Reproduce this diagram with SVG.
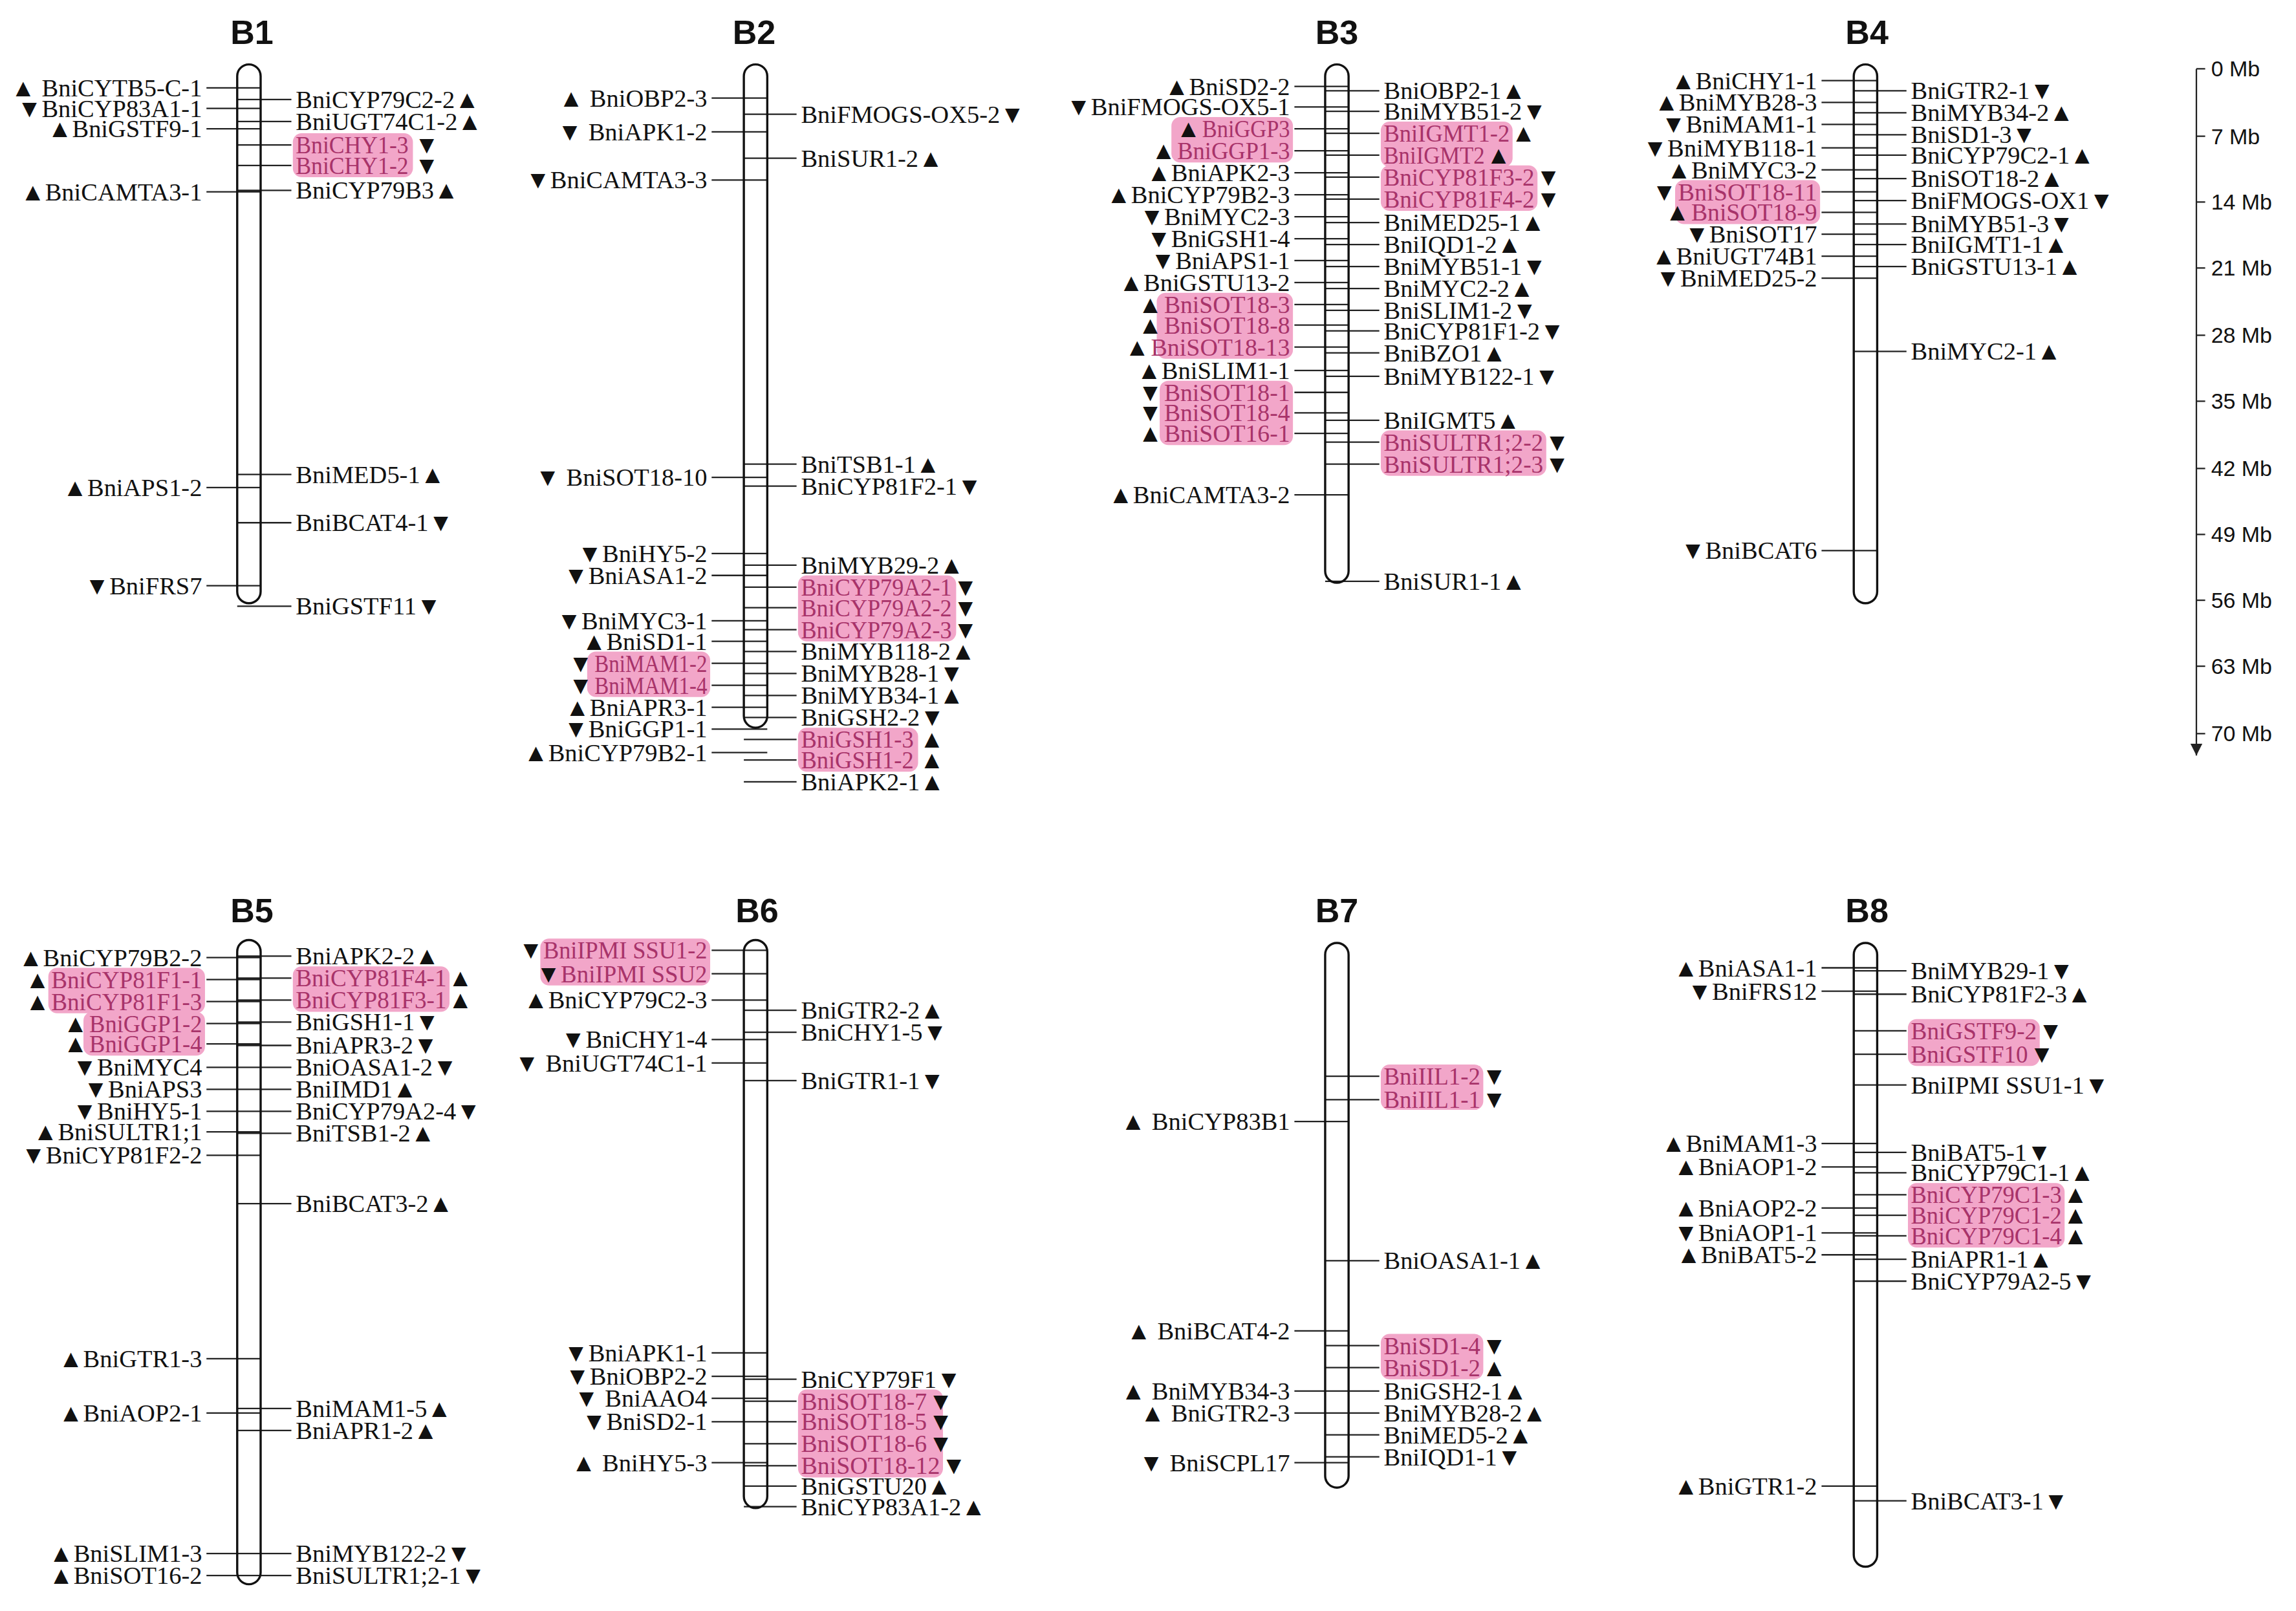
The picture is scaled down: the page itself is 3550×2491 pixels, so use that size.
<svg xmlns="http://www.w3.org/2000/svg" width="3550" height="2491" viewBox="0 0 3550 2491">
<style>
text{font-family:"Liberation Serif","DejaVu Sans",serif;font-size:17px;dominant-baseline:central;fill:#111}
.l{text-anchor:end}
.p{fill:#a8336a}
.t{font-family:"Liberation Sans",Arial,sans-serif;font-weight:bold;font-size:23px;text-anchor:middle}
.s{font-family:"Liberation Sans",Arial,sans-serif;font-size:15px}
.ln{stroke:#222;stroke-width:1;fill:none}
.ch{stroke:#111;stroke-width:1.5;fill:none}
.pk{fill:#f2a6c9}
</style>
<defs><marker id="ar" markerWidth="8" markerHeight="8" refX="8" refY="4" orient="auto" markerUnits="userSpaceOnUse"><path d="M0 0L8 4L0 8Z" fill="#222"/></marker></defs>
<rect width="3550" height="2491" fill="#fff"/>
<g transform="scale(2.264)">
<g id="connectors">
<path class="ln" d="M141 60H178M141 74H178M141 88H178M141 131H178M141 333H178M141 400H178M162 68H199M162 83H199M162 99H199M162 113H199M162 130H199M162 324H199M162 357H199M162 414H199"/>
<path class="ln" d="M486 67H524M486 90H524M486 123H524M486 326H524M486 378H524M486 393H524M486 424H524M486 438H524M486 453H524M486 468H524M486 483H524M486 498H524M486 514H524M508 78H544M508 108H544M508 317H544M508 332H544M508 386H544M508 401H544M508 415H544M508 430H544M508 445H544M508 460H544M508 475H544M508 490H544M508 505H544M508 519H544M508 534H544"/>
<path class="ln" d="M884 59H921M884 73H921M884 88H921M884 103H921M884 118H921M884 133H921M884 148H921M884 163H921M884 178H921M884 193H921M884 208H921M884 222H921M884 237H921M884 253H921M884 268H921M884 282H921M884 296H921M884 338H921M905 62H942M905 76H942M905 91H942M905 106H942M905 121H942M905 136H942M905 152H942M905 167H942M905 182H942M905 197H942M905 212H942M905 226H942M905 241H942M905 257H942M905 287H942M905 302H942M905 317H942M905 397H942"/>
<path class="ln" d="M1244 55H1282M1244 70H1282M1244 85H1282M1244 101H1282M1244 116H1282M1244 131H1282M1244 145H1282M1244 160H1282M1244 175H1282M1244 190H1282M1244 376H1282M1266 62H1302M1266 77H1302M1266 92H1302M1266 106H1302M1266 122H1302M1266 137H1302M1266 153H1302M1266 167H1302M1266 182H1302M1266 240H1302"/>
<path class="ln" d="M141 654H178M141 669H178M141 684H178M141 699H178M141 713H178M141 729H178M141 744H178M141 759H178M141 773H178M141 789H178M141 928H178M141 965H178M141 1061H178M141 1076H178M162 653H199M162 668H199M162 683H199M162 698H199M162 714H199M162 729H199M162 744H199M162 759H199M162 774H199M162 822H199M162 962H199M162 977H199M162 1061H199M162 1076H199"/>
<path class="ln" d="M486 649H524M486 665H524M486 683H524M486 710H524M486 726H524M486 924H524M486 940H524M486 955H524M486 971H524M486 999H524M508 690H544M508 705H544M508 738H544M508 942H544M508 957H544M508 971H544M508 986H544M508 1001H544M508 1015H544M508 1029H544"/>
<path class="ln" d="M884 766H921M884 909H921M884 950H921M884 965H921M884 999H921M905 735H942M905 751H942M905 861H942M905 919H942M905 934H942M905 950H942M905 965H942M905 980H942M905 995H942"/>
<path class="ln" d="M1244 661H1282M1244 677H1282M1244 781H1282M1244 797H1282M1244 825H1282M1244 842H1282M1244 857H1282M1244 1015H1282M1266 663H1302M1266 679H1302M1266 704H1302M1266 720H1302M1266 741H1302M1266 787H1302M1266 801H1302M1266 816H1302M1266 830H1302M1266 844H1302M1266 860H1302M1266 875H1302M1266 1025H1302"/>
</g>

<g id="B1">
<rect class="ch" x="162" y="44" width="16" height="368" rx="8"/>
<text class="t" x="172" y="22">B1</text>
<text class="l" x="138" y="60">▲ BniCYTB5-C-1</text>
<text class="l" x="138" y="74">▼BniCYP83A1-1</text>
<text class="l" x="138" y="88">▲BniGSTF9-1</text>
<text class="l" x="138" y="131">▲BniCAMTA3-1</text>
<text class="l" x="138" y="333">▲BniAPS1-2</text>
<text class="l" x="138" y="400">▼BniFRS7</text>
<text x="202" y="68">BniCYP79C2-2▲</text>
<text x="202" y="83">BniUGT74C1-2▲</text>
<rect class="pk" x="200" y="91" width="82" height="30" rx="6"/>
<text class="p" x="202" y="99" textLength="77" lengthAdjust="spacingAndGlyphs">BniCHY1-3</text><text x="283" y="99">▼</text>
<text class="p" x="202" y="113" textLength="77" lengthAdjust="spacingAndGlyphs">BniCHY1-2</text><text x="283" y="113">▼</text>
<text x="202" y="130">BniCYP79B3▲</text>
<text x="202" y="324">BniMED5-1▲</text>
<text x="202" y="357">BniBCAT4-1▼</text>
<text x="202" y="414">BniGSTF11▼</text>
</g>

<g id="B2">
<rect class="ch" x="508" y="44" width="16" height="453" rx="8"/>
<text class="t" x="515" y="22">B2</text>
<text class="l" x="483" y="67">▲ BniOBP2-3</text>
<text class="l" x="483" y="90">▼ BniAPK1-2</text>
<text class="l" x="483" y="123">▼BniCAMTA3-3</text>
<text class="l" x="483" y="326">▼ BniSOT18-10</text>
<text class="l" x="483" y="378">▼BniHY5-2</text>
<text class="l" x="483" y="393">▼BniASA1-2</text>
<text class="l" x="483" y="424">▼BniMYC3-1</text>
<text class="l" x="483" y="438">▲BniSD1-1</text>
<rect class="pk" x="401" y="445" width="84" height="31" rx="6"/>
<text class="p l" x="483" y="453" textLength="77" lengthAdjust="spacingAndGlyphs">BniMAM1-2</text><text class="l" x="405" y="453">▼</text>
<text class="p l" x="483" y="468" textLength="77" lengthAdjust="spacingAndGlyphs">BniMAM1-4</text><text class="l" x="405" y="468">▼</text>
<text class="l" x="483" y="483">▲BniAPR3-1</text>
<text class="l" x="483" y="498">▼BniGGP1-1</text>
<text class="l" x="483" y="514">▲BniCYP79B2-1</text>
<text x="547" y="78">BniFMOGS-OX5-2▼</text>
<text x="547" y="108">BniSUR1-2▲</text>
<text x="547" y="317">BniTSB1-1▲</text>
<text x="547" y="332">BniCYP81F2-1▼</text>
<text x="547" y="386">BniMYB29-2▲</text>
<rect class="pk" x="545" y="393" width="108" height="45" rx="6"/>
<text class="p" x="547" y="401" textLength="103" lengthAdjust="spacingAndGlyphs">BniCYP79A2-1</text><text x="651" y="401">▼</text>
<text class="p" x="547" y="415" textLength="103" lengthAdjust="spacingAndGlyphs">BniCYP79A2-2</text><text x="651" y="415">▼</text>
<text class="p" x="547" y="430" textLength="103" lengthAdjust="spacingAndGlyphs">BniCYP79A2-3</text><text x="651" y="430">▼</text>
<text x="547" y="445">BniMYB118-2▲</text>
<text x="547" y="460">BniMYB28-1▼</text>
<text x="547" y="475">BniMYB34-1▲</text>
<text x="547" y="490">BniGSH2-2▼</text>
<rect class="pk" x="545" y="497" width="82" height="30" rx="6"/>
<text class="p" x="547" y="505" textLength="77" lengthAdjust="spacingAndGlyphs">BniGSH1-3</text><text x="628" y="505">▲</text>
<text class="p" x="547" y="519" textLength="77" lengthAdjust="spacingAndGlyphs">BniGSH1-2</text><text x="628" y="519">▲</text>
<text x="547" y="534">BniAPK2-1▲</text>
</g>

<g id="B3">
<rect class="ch" x="905" y="44" width="16" height="354" rx="8"/>
<text class="t" x="913" y="22">B3</text>
<text class="l" x="881" y="59">▲BniSD2-2</text>
<text class="l" x="881" y="73">▼BniFMOGS-OX5-1</text>
<rect class="pk" x="800" y="80" width="83" height="31" rx="6"/>
<text class="p l" x="881" y="88" textLength="60" lengthAdjust="spacingAndGlyphs">BniGGP3</text><text class="l" x="820" y="88">▲</text>
<text class="p l" x="881" y="103" textLength="77" lengthAdjust="spacingAndGlyphs">BniGGP1-3</text><text class="l" x="803" y="103">▲</text>
<text class="l" x="881" y="118">▲BniAPK2-3</text>
<text class="l" x="881" y="133">▲BniCYP79B2-3</text>
<text class="l" x="881" y="148">▼BniMYC2-3</text>
<text class="l" x="881" y="163">▼BniGSH1-4</text>
<text class="l" x="881" y="178">▼BniAPS1-1</text>
<text class="l" x="881" y="193">▲BniGSTU13-2</text>
<rect class="pk" x="790" y="200" width="93" height="45" rx="6"/>
<text class="p l" x="881" y="208" textLength="86" lengthAdjust="spacingAndGlyphs">BniSOT18-3</text><text class="l" x="794" y="208">▲</text>
<text class="p l" x="881" y="222" textLength="86" lengthAdjust="spacingAndGlyphs">BniSOT18-8</text><text class="l" x="794" y="222">▲</text>
<text class="p l" x="881" y="237" textLength="95" lengthAdjust="spacingAndGlyphs">BniSOT18-13</text><text class="l" x="785" y="237">▲</text>
<text class="l" x="881" y="253">▲BniSLIM1-1</text>
<rect class="pk" x="792" y="260" width="91" height="44" rx="6"/>
<text class="p l" x="881" y="268" textLength="86" lengthAdjust="spacingAndGlyphs">BniSOT18-1</text><text class="l" x="794" y="268">▼</text>
<text class="p l" x="881" y="282" textLength="86" lengthAdjust="spacingAndGlyphs">BniSOT18-4</text><text class="l" x="794" y="282">▼</text>
<text class="p l" x="881" y="296" textLength="86" lengthAdjust="spacingAndGlyphs">BniSOT16-1</text><text class="l" x="794" y="296">▲</text>
<text class="l" x="881" y="338">▲BniCAMTA3-2</text>
<text x="945" y="62">BniOBP2-1▲</text>
<text x="945" y="76">BniMYB51-2▼</text>
<rect class="pk" x="943" y="83" width="90" height="31" rx="6"/>
<text class="p" x="945" y="91" textLength="86" lengthAdjust="spacingAndGlyphs">BniIGMT1-2</text><text x="1032" y="91">▲</text>
<text class="p" x="945" y="106" textLength="69" lengthAdjust="spacingAndGlyphs">BniIGMT2</text><text x="1015" y="106">▲</text>
<rect class="pk" x="943" y="113" width="107" height="31" rx="6"/>
<text class="p" x="945" y="121" textLength="103" lengthAdjust="spacingAndGlyphs">BniCYP81F3-2</text><text x="1049" y="121">▼</text>
<text class="p" x="945" y="136" textLength="103" lengthAdjust="spacingAndGlyphs">BniCYP81F4-2</text><text x="1049" y="136">▼</text>
<text x="945" y="152">BniMED25-1▲</text>
<text x="945" y="167">BniIQD1-2▲</text>
<text x="945" y="182">BniMYB51-1▼</text>
<text x="945" y="197">BniMYC2-2▲</text>
<text x="945" y="212">BniSLIM1-2▼</text>
<text x="945" y="226">BniCYP81F1-2▼</text>
<text x="945" y="241">BniBZO1▲</text>
<text x="945" y="257">BniMYB122-1▼</text>
<text x="945" y="287">BniIGMT5▲</text>
<rect class="pk" x="943" y="294" width="113" height="31" rx="6"/>
<text class="p" x="945" y="302" textLength="109" lengthAdjust="spacingAndGlyphs">BniSULTR1;2-2</text><text x="1055" y="302">▼</text>
<text class="p" x="945" y="317" textLength="109" lengthAdjust="spacingAndGlyphs">BniSULTR1;2-3</text><text x="1055" y="317">▼</text>
<text x="945" y="397">BniSUR1-1▲</text>
</g>

<g id="B4">
<rect class="ch" x="1266" y="44" width="16" height="368" rx="8"/>
<text class="t" x="1275" y="22">B4</text>
<text class="l" x="1241" y="55">▲BniCHY1-1</text>
<text class="l" x="1241" y="70">▲BniMYB28-3</text>
<text class="l" x="1241" y="85">▼BniMAM1-1</text>
<text class="l" x="1241" y="101">▼BniMYB118-1</text>
<text class="l" x="1241" y="116">▲BniMYC3-2</text>
<rect class="pk" x="1144" y="123" width="99" height="30" rx="6"/>
<text class="p l" x="1241" y="131" textLength="95" lengthAdjust="spacingAndGlyphs">BniSOT18-11</text><text class="l" x="1145" y="131">▼</text>
<text class="p l" x="1241" y="145" textLength="86" lengthAdjust="spacingAndGlyphs">BniSOT18-9</text><text class="l" x="1154" y="145">▲</text>
<text class="l" x="1241" y="160">▼BniSOT17</text>
<text class="l" x="1241" y="175">▲BniUGT74B1</text>
<text class="l" x="1241" y="190">▼BniMED25-2</text>
<text class="l" x="1241" y="376">▼BniBCAT6</text>
<text x="1305" y="62">BniGTR2-1▼</text>
<text x="1305" y="77">BniMYB34-2▲</text>
<text x="1305" y="92">BniSD1-3▼</text>
<text x="1305" y="106">BniCYP79C2-1▲</text>
<text x="1305" y="122">BniSOT18-2▲</text>
<text x="1305" y="137">BniFMOGS-OX1▼</text>
<text x="1305" y="153">BniMYB51-3▼</text>
<text x="1305" y="167">BniIGMT1-1▲</text>
<text x="1305" y="182">BniGSTU13-1▲</text>
<text x="1305" y="240">BniMYC2-1▲</text>
</g>

<g id="scale">
<path class="ln" d="M1500 47V516" marker-end="url(#ar)"/>
<path class="ln" d="M1500 47H1506M1500 93H1506M1500 138H1506M1500 183H1506M1500 229H1506M1500 274H1506M1500 320H1506M1500 365H1506M1500 410H1506M1500 455H1506M1500 501H1506"/>
<text class="s" x="1510" y="47">0 Mb</text>
<text class="s" x="1510" y="93">7 Mb</text>
<text class="s" x="1510" y="138">14 Mb</text>
<text class="s" x="1510" y="183">21 Mb</text>
<text class="s" x="1510" y="229">28 Mb</text>
<text class="s" x="1510" y="274">35 Mb</text>
<text class="s" x="1510" y="320">42 Mb</text>
<text class="s" x="1510" y="365">49 Mb</text>
<text class="s" x="1510" y="410">56 Mb</text>
<text class="s" x="1510" y="455">63 Mb</text>
<text class="s" x="1510" y="501">70 Mb</text>
</g>

<g id="B5">
<rect class="ch" x="162" y="642" width="16" height="440" rx="8"/>
<text class="t" x="172" y="622">B5</text>
<text class="l" x="138" y="654">▲BniCYP79B2-2</text>
<rect class="pk" x="33" y="661" width="107" height="31" rx="6"/>
<text class="p l" x="138" y="669" textLength="103" lengthAdjust="spacingAndGlyphs">BniCYP81F1-1</text><text class="l" x="34" y="669">▲</text>
<text class="p l" x="138" y="684" textLength="103" lengthAdjust="spacingAndGlyphs">BniCYP81F1-3</text><text class="l" x="34" y="684">▲</text>
<rect class="pk" x="57" y="691" width="83" height="30" rx="6"/>
<text class="p l" x="138" y="699" textLength="77" lengthAdjust="spacingAndGlyphs">BniGGP1-2</text><text class="l" x="60" y="699">▲</text>
<text class="p l" x="138" y="713" textLength="77" lengthAdjust="spacingAndGlyphs">BniGGP1-4</text><text class="l" x="60" y="713">▲</text>
<text class="l" x="138" y="729">▼BniMYC4</text>
<text class="l" x="138" y="744">▼BniAPS3</text>
<text class="l" x="138" y="759">▼BniHY5-1</text>
<text class="l" x="138" y="773">▲BniSULTR1;1</text>
<text class="l" x="138" y="789">▼BniCYP81F2-2</text>
<text class="l" x="138" y="928">▲BniGTR1-3</text>
<text class="l" x="138" y="965">▲BniAOP2-1</text>
<text class="l" x="138" y="1061">▲BniSLIM1-3</text>
<text class="l" x="138" y="1076">▲BniSOT16-2</text>
<text x="202" y="653">BniAPK2-2▲</text>
<rect class="pk" x="200" y="660" width="107" height="31" rx="6"/>
<text class="p" x="202" y="668" textLength="103" lengthAdjust="spacingAndGlyphs">BniCYP81F4-1</text><text x="306" y="668">▲</text>
<text class="p" x="202" y="683" textLength="103" lengthAdjust="spacingAndGlyphs">BniCYP81F3-1</text><text x="306" y="683">▲</text>
<text x="202" y="698">BniGSH1-1▼</text>
<text x="202" y="714">BniAPR3-2▼</text>
<text x="202" y="729">BniOASA1-2▼</text>
<text x="202" y="744">BniIMD1▲</text>
<text x="202" y="759">BniCYP79A2-4▼</text>
<text x="202" y="774">BniTSB1-2▲</text>
<text x="202" y="822">BniBCAT3-2▲</text>
<text x="202" y="962">BniMAM1-5▲</text>
<text x="202" y="977">BniAPR1-2▲</text>
<text x="202" y="1061">BniMYB122-2▼</text>
<text x="202" y="1076">BniSULTR1;2-1▼</text>
</g>

<g id="B6">
<rect class="ch" x="508" y="642" width="16" height="388" rx="8"/>
<text class="t" x="517" y="622">B6</text>
<rect class="pk" x="369" y="641" width="116" height="32" rx="6"/>
<text class="p l" x="483" y="649" textLength="112" lengthAdjust="spacingAndGlyphs">BniIPMI SSU1-2</text><text class="l" x="371" y="649">▼</text>
<text class="p l" x="483" y="665" textLength="100" lengthAdjust="spacingAndGlyphs">BniIPMI SSU2</text><text class="l" x="383" y="665">▼</text>
<text class="l" x="483" y="683">▲BniCYP79C2-3</text>
<text class="l" x="483" y="710">▼BniCHY1-4</text>
<text class="l" x="483" y="726">▼ BniUGT74C1-1</text>
<text class="l" x="483" y="924">▼BniAPK1-1</text>
<text class="l" x="483" y="940">▼BniOBP2-2</text>
<text class="l" x="483" y="955">▼ BniAAO4</text>
<text class="l" x="483" y="971">▼BniSD2-1</text>
<text class="l" x="483" y="999">▲ BniHY5-3</text>
<text x="547" y="690">BniGTR2-2▲</text>
<text x="547" y="705">BniCHY1-5▼</text>
<text x="547" y="738">BniGTR1-1▼</text>
<text x="547" y="942">BniCYP79F1▼</text>
<rect class="pk" x="545" y="949" width="99" height="60" rx="6"/>
<text class="p" x="547" y="957" textLength="86" lengthAdjust="spacingAndGlyphs">BniSOT18-7</text><text x="634" y="957">▼</text>
<text class="p" x="547" y="971" textLength="86" lengthAdjust="spacingAndGlyphs">BniSOT18-5</text><text x="634" y="971">▼</text>
<text class="p" x="547" y="986" textLength="86" lengthAdjust="spacingAndGlyphs">BniSOT18-6</text><text x="634" y="986">▼</text>
<text class="p" x="547" y="1001" textLength="95" lengthAdjust="spacingAndGlyphs">BniSOT18-12</text><text x="643" y="1001">▼</text>
<text x="547" y="1015">BniGSTU20▲</text>
<text x="547" y="1029">BniCYP83A1-2▲</text>
</g>

<g id="B7">
<rect class="ch" x="905" y="644" width="16" height="372" rx="8"/>
<text class="t" x="913" y="622">B7</text>
<text class="l" x="881" y="766">▲ BniCYP83B1</text>
<text class="l" x="881" y="909">▲ BniBCAT4-2</text>
<text class="l" x="881" y="950">▲ BniMYB34-3</text>
<text class="l" x="881" y="965">▲ BniGTR2-3</text>
<text class="l" x="881" y="999">▼ BniSCPL17</text>
<rect class="pk" x="943" y="727" width="70" height="31" rx="6"/>
<text class="p" x="945" y="735" textLength="66" lengthAdjust="spacingAndGlyphs">BniIIL1-2</text><text x="1012" y="735">▼</text>
<text class="p" x="945" y="751" textLength="66" lengthAdjust="spacingAndGlyphs">BniIIL1-1</text><text x="1012" y="751">▼</text>
<text x="945" y="861">BniOASA1-1▲</text>
<rect class="pk" x="943" y="911" width="70" height="31" rx="6"/>
<text class="p" x="945" y="919" textLength="66" lengthAdjust="spacingAndGlyphs">BniSD1-4</text><text x="1012" y="919">▼</text>
<text class="p" x="945" y="934" textLength="66" lengthAdjust="spacingAndGlyphs">BniSD1-2</text><text x="1012" y="934">▲</text>
<text x="945" y="950">BniGSH2-1▲</text>
<text x="945" y="965">BniMYB28-2▲</text>
<text x="945" y="980">BniMED5-2▲</text>
<text x="945" y="995">BniIQD1-1▼</text>
</g>

<g id="B8">
<rect class="ch" x="1266" y="644" width="16" height="426" rx="8"/>
<text class="t" x="1275" y="622">B8</text>
<text class="l" x="1241" y="661">▲BniASA1-1</text>
<text class="l" x="1241" y="677">▼BniFRS12</text>
<text class="l" x="1241" y="781">▲BniMAM1-3</text>
<text class="l" x="1241" y="797">▲BniAOP1-2</text>
<text class="l" x="1241" y="825">▲BniAOP2-2</text>
<text class="l" x="1241" y="842">▼BniAOP1-1</text>
<text class="l" x="1241" y="857">▲BniBAT5-2</text>
<text class="l" x="1241" y="1015">▲BniGTR1-2</text>
<text x="1305" y="663">BniMYB29-1▼</text>
<text x="1305" y="679">BniCYP81F2-3▲</text>
<rect class="pk" x="1303" y="696" width="90" height="32" rx="6"/>
<text class="p" x="1305" y="704" textLength="86" lengthAdjust="spacingAndGlyphs">BniGSTF9-2</text><text x="1392" y="704">▼</text>
<text class="p" x="1305" y="720" textLength="80" lengthAdjust="spacingAndGlyphs">BniGSTF10</text><text x="1386" y="720">▼</text>
<text x="1305" y="741">BniIPMI SSU1-1▼</text>
<text x="1305" y="787">BniBAT5-1▼</text>
<text x="1305" y="801">BniCYP79C1-1▲</text>
<rect class="pk" x="1303" y="808" width="107" height="44" rx="6"/>
<text class="p" x="1305" y="816" textLength="103" lengthAdjust="spacingAndGlyphs">BniCYP79C1-3</text><text x="1409" y="816">▲</text>
<text class="p" x="1305" y="830" textLength="103" lengthAdjust="spacingAndGlyphs">BniCYP79C1-2</text><text x="1409" y="830">▲</text>
<text class="p" x="1305" y="844" textLength="103" lengthAdjust="spacingAndGlyphs">BniCYP79C1-4</text><text x="1409" y="844">▲</text>
<text x="1305" y="860">BniAPR1-1▲</text>
<text x="1305" y="875">BniCYP79A2-5▼</text>
<text x="1305" y="1025">BniBCAT3-1▼</text>
</g>
</g>
</svg>
